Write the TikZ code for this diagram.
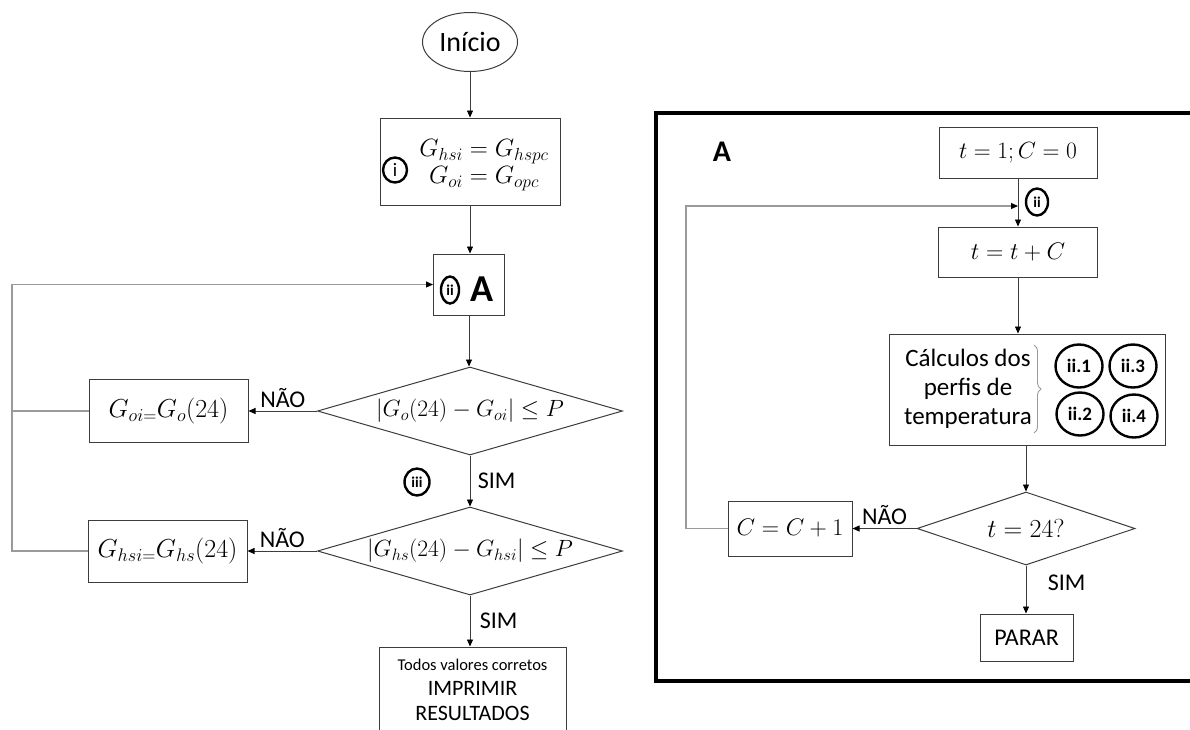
\RequirePackage{fix-cm}
\documentclass[tikz,border=0pt]{standalone}
\usepackage[no-math]{fontspec}
\setmainfont{Carlito}
\usetikzlibrary{shapes,arrows.meta,positioning,calc,decorations.pathreplacing}
\definecolor{edge}{HTML}{3C3C3C}
\definecolor{backgrey}{HTML}{9A9A9A}

\tikzset{
  box/.style={draw=edge, line width=1pt, rectangle, inner sep=0pt},
  decision/.style={draw=edge, line width=1pt, diamond, inner sep=0pt},
  romtag/.style={draw=black, line width=2.4pt, ellipse, inner sep=0pt},
  tip/.style={-{Triangle[length=7pt,width=6pt,color=black]}},
  flow/.style={draw=edge, line width=0.9pt, tip},
  backline/.style={draw=backgrey, line width=1.1pt},
  lbl/.style={font=\fontsize{24}{28}\selectfont},
  mth/.style={font=\fontsize{24}{27}\selectfont},
  dmth/.style={font=\fontsize{23.5}{26}\selectfont},
}

\begin{document}
\begin{tikzpicture}[x=1pt, y=-1pt]
  \useasboundingbox (0,0) rectangle (1190,729);
  % Main loop (left)
  \node[draw=edge, line width=1pt, ellipse, inner sep=0pt, minimum width=95pt, minimum height=59pt,
        font=\fontsize{28}{32}\selectfont] (start) at (470,42) {Início};
  \node[box, minimum width=180pt, minimum height=87pt] (init) at (470,161.5) {};
  \node[mth, align=center, font=\fontsize{25}{27}\selectfont] (initeq) at (484,165) {$G_{hsi}=G_{hspc}$\\$G_{oi}=G_{opc}$};
  \node[romtag, minimum width=24pt, minimum height=25pt, font=\fontsize{19}{19}\selectfont] (tagi) at (395,170) {i};
  \node[box, minimum width=71pt, minimum height=61pt] (boxA) at (469,284.5) {};
  \node[romtag, minimum width=18pt, minimum height=27pt, font=\bfseries\fontsize{15}{15}\selectfont] (tagiiA) at (450,290) {ii};
  \node[font=\bfseries\fontsize{38}{38}\selectfont] (nameA) at (482,289) {A};
  \node[decision, dmth, minimum width=305pt, minimum height=88pt] (dec1) at (470,411)
       {\makebox[0pt]{$|G_o(24)-G_{oi}|\le P$}};
  \node[box, mth, minimum width=159pt, minimum height=63pt, font=\fontsize{26}{28}\selectfont] (goi) at (168.5,411) {$G_{oi=}G_o(24)$};
  \node[romtag, minimum width=25pt, minimum height=27pt, font=\bfseries\fontsize{15}{15}\selectfont] (tagiii) at (417,482) {iii};
  \node[decision, dmth, minimum width=305pt, minimum height=88pt] (dec2) at (470,551)
       {\makebox[0pt]{$|G_{hs}(24)-G_{hsi}|\le P$}};
  \node[box, mth, minimum width=159pt, minimum height=62pt, font=\fontsize{26}{28}\selectfont] (ghsi) at (167.5,551) {$G_{hsi=}G_{hs}(24)$};
  \node[box, minimum width=187pt, minimum height=100pt] (final) at (472.5,697) {};
  \node[lbl, align=center, font=\fontsize{22}{25}\selectfont] (finaltxt) at (472.5,690)
       {{\fontsize{16.5}{19}\selectfont Todos valores corretos}\\IMPRIMIR\\RESULTADOS};

  \draw[flow] (start.south) -- (start.south |- init.north);
  \draw[flow] (init.south) -- (init.south |- boxA.north);
  \draw[flow] (boxA.south) -- (boxA.south |- dec1.north);
  \draw[flow] (dec1.west) -- (goi.east) node[midway, above, lbl] {NÃO};
  \draw[flow] (dec1.south) -- (dec2.north) node[midway, right, lbl, xshift=4pt] {SIM};
  \draw[flow] (dec2.west) -- (ghsi.east) node[midway, above, lbl] {NÃO};
  \draw[flow] (dec2.south) -- (dec2.south |- final.north) node[midway, right, lbl, xshift=6pt] {SIM};
  % Feedback
  \coordinate (lbend) at (12,551);
  \draw[backline] (goi.west) -- (goi.west -| lbend);
  \draw[backline, tip] (ghsi.west) -- (lbend) |- (boxA.west);

  % Sub-process A (right)
  \draw[line width=3.8pt] (656,113) rectangle (1196,681);
  \node[font=\bfseries\fontsize{30}{30}\selectfont] (titleA) at (722,152) {A};
  \node[box, dmth, minimum width=158pt, minimum height=51pt] (tinit) at (1018,152.5) {$t=1;C=0$};
  \node[box, mth, minimum width=159pt, minimum height=50pt] (tstep) at (1018,252) {$t=t+C$};
  \node[romtag, minimum width=22pt, minimum height=27pt, font=\bfseries\fontsize{15}{15}\selectfont] (tagiiR) at (1037,202) {ii};
  \node[box, minimum width=276pt, minimum height=111pt] (calc) at (1027,389.5) {};
  \node[align=center, font=\fontsize{25}{29}\selectfont] (calctxt) at (968,389) {Cálculos dos\\perfis de\\temperatura};
  \draw[draw=backgrey, line width=0.9pt, decorate, decoration={brace, amplitude=7pt}] (1034,345) -- (1034,433);
  \foreach \nm/\x/\y in {1/1079/366, 3/1133/366, 2/1080/414, 4/1134/416}
    \node[romtag, minimum width=47pt, minimum height=43pt, font=\bfseries\fontsize{19}{19}\selectfont] (sub\nm) at (\x,\y) {ii.\nm};
  \node[decision, mth, minimum width=218pt, minimum height=73pt, font=\fontsize{26}{28}\selectfont] (dec3) at (1026,528.5) {\makebox[0pt]{$t=24?$}};
  \node[box, mth, minimum width=124pt, minimum height=55pt] (inc) at (790,528.5) {$C=C+1$};
  \node[box, lbl, minimum width=93pt, minimum height=47pt] (stop) at (1026.5,637.5) {PARAR};

  \draw[flow] (tinit.south) -- (tstep.north);
  \draw[flow] (tstep.south) -- (tstep.south |- calc.north);
  \draw[flow] (calc.south -| dec3.north) -- (dec3.north);
  \draw[flow] (dec3.west) -- (inc.east) node[midway, above, lbl] {NÃO};
  \draw[flow] (dec3.south) -- (dec3.south |- stop.north) node[midway, right, lbl, xshift=18pt, yshift=7pt] {SIM};
  % Feedback
  \coordinate (rjoin) at (1018,206);
  \coordinate (rbend) at (686,528.5);
  \draw[backline, tip] (inc.west) -- (rbend) |- (rjoin);
\end{tikzpicture}
\end{document}
